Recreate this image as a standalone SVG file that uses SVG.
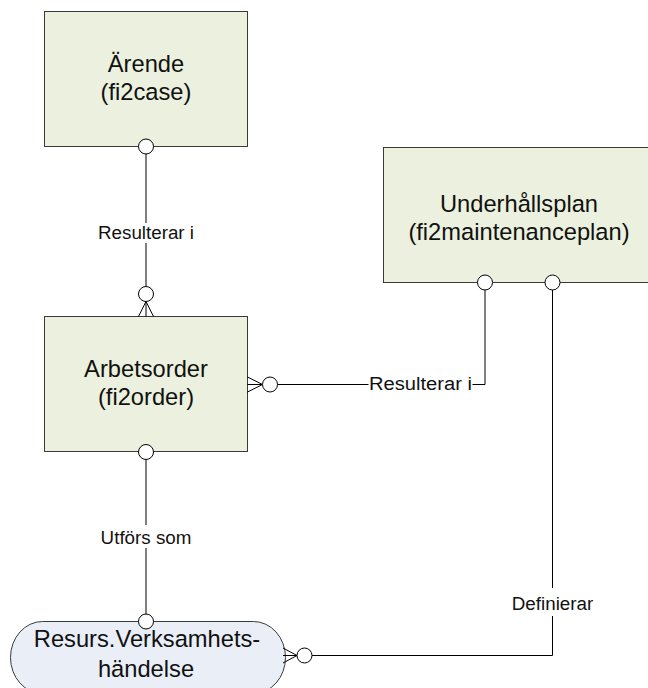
<svg xmlns="http://www.w3.org/2000/svg" width="648" height="688" viewBox="0 0 648 688">
  <style>
    .entity { fill: #ebf1de; stroke: #3a3a3a; stroke-width: 1; }
    .event { fill: #e9eef7; stroke: #3a3a3a; stroke-width: 1; }
    .title { font-family: "Liberation Sans", Arial, sans-serif; font-size: 23.7px; fill: #111; text-anchor: middle; }
    .label { font-family: "Liberation Sans", Arial, sans-serif; font-size: 18.8px; fill: #111; text-anchor: middle; }
    .line { fill: none; stroke: #000; stroke-width: 1; }
    .end { fill: #fff; stroke: #000; stroke-width: 1; }
    .gap { fill: #fff; }
  </style>
  <rect width="648" height="688" fill="#fff"/>

  <g id="arende">
    <rect class="entity" x="44.5" y="11.5" width="203" height="135"/>
    <text class="title" x="146" y="72">Ärende</text>
    <text class="title" x="146" y="100">(fi2case)</text>
  </g>

  <g id="arbetsorder">
    <rect class="entity" x="44.5" y="316.5" width="203" height="135"/>
    <text class="title" x="146" y="377">Arbetsorder</text>
    <text class="title" x="146" y="405">(fi2order)</text>
  </g>

  <g id="underhallsplan">
    <rect class="entity" x="383.5" y="147.5" width="280" height="135"/>
    <text class="title" x="519" y="212">Underhållsplan</text>
    <text class="title" x="519" y="240">(fi2maintenanceplan)</text>
  </g>

  <g id="resurs-verksamhetshandelse">
    <rect class="event" x="10.5" y="621.5" width="275" height="72" rx="32" ry="36"/>
    <text class="title" x="147" y="647">Resurs.Verksamhets-</text>
    <text class="title" x="146" y="677">händelse</text>
  </g>

  <g id="connectors">
    <!-- Ärende 1 : N Arbetsorder -->
    <g id="c-arende-arbetsorder">
      <line class="line" x1="146" y1="154" x2="146" y2="286.5"/>
      <rect class="gap" x="96" y="223" width="100" height="20"/>
      <text class="label" x="146" y="238.5">Resulterar i</text>
      <circle class="end" cx="146" cy="146.5" r="7.5"/>
      <path class="line" d="M146,301.5 L138.5,316.5 M146,301.5 L153.5,316.5 M146,301.5 L146,316.5"/>
      <circle class="end" cx="146" cy="294" r="7.5"/>
    </g>

    <!-- Underhållsplan 1 : N Arbetsorder -->
    <g id="c-underhallsplan-arbetsorder">
      <path class="line" d="M247.5,377 L262.5,384.5 M247.5,392 L262.5,384.5 M247.5,384.5 L262.5,384.5"/>
      <circle class="end" cx="270" cy="384.5" r="7.5"/>
      <polyline class="line" points="277.5,384.5 485,384.5 485,290"/>
      <rect class="gap" x="368.5" y="376" width="104" height="17"/>
      <text class="label" x="420.5" y="390" textLength="103" lengthAdjust="spacingAndGlyphs">Resulterar i</text>
      <circle class="end" cx="485" cy="282.5" r="7.5"/>
    </g>

    <!-- Arbetsorder 1 : 1 Resurs.Verksamhetshändelse -->
    <g id="c-arbetsorder-resurs">
      <line class="line" x1="146" y1="459.5" x2="146" y2="614"/>
      <rect class="gap" x="98" y="525" width="96" height="23"/>
      <text class="label" x="146" y="543.5">Utförs som</text>
      <circle class="end" cx="146" cy="452" r="7.5"/>
      <circle class="end" cx="146" cy="621.5" r="7.5"/>
    </g>

    <!-- Underhållsplan 1 : N Resurs.Verksamhetshändelse -->
    <g id="c-underhallsplan-resurs">
      <polyline class="line" points="552.5,290 552.5,655.5 312,655.5"/>
      <rect class="gap" x="510" y="588" width="85" height="28"/>
      <text class="label" x="552.5" y="610">Definierar</text>
      <circle class="end" cx="552.5" cy="282.5" r="7.5"/>
      <path class="line" d="M283,648 L297,655.5 M283,663 L297,655.5 M283,655.5 L297,655.5"/>
      <circle class="end" cx="304.5" cy="655.5" r="7.5"/>
    </g>
  </g>
</svg>
